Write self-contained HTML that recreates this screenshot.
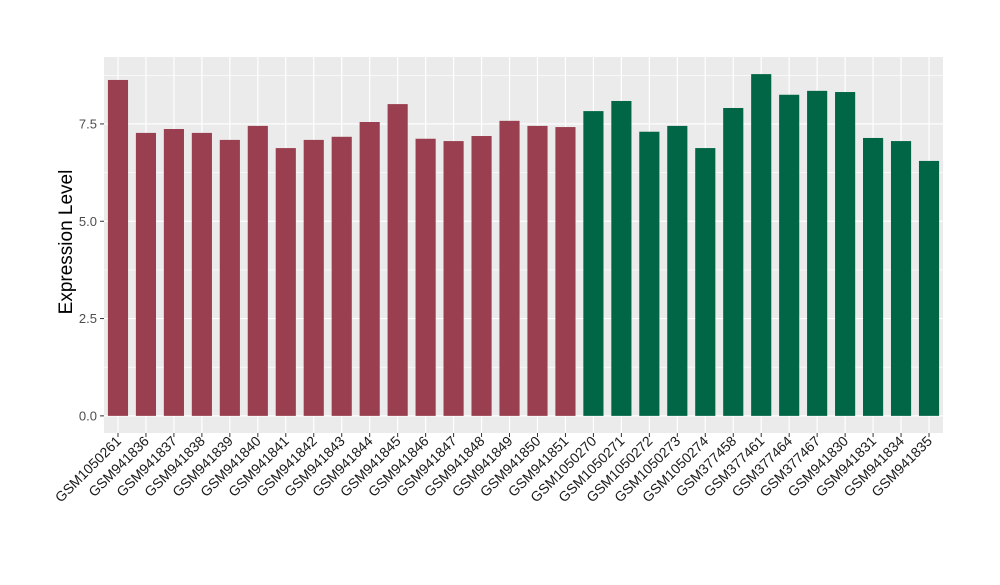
<!DOCTYPE html>
<html><head><meta charset="utf-8"><style>
body{margin:0;background:#fff;}
svg text{font-family:"Liberation Sans",sans-serif;}
</style></head><body>
<svg id="chart" width="1000" height="580"></svg>
<script>
const categories=["GSM1050261","GSM941836","GSM941837","GSM941838","GSM941839","GSM941840","GSM941841","GSM941842","GSM941843","GSM941844","GSM941845","GSM941846","GSM941847","GSM941848","GSM941849","GSM941850","GSM941851","GSM1050270","GSM1050271","GSM1050272","GSM1050273","GSM1050274","GSM377458","GSM377461","GSM377464","GSM377467","GSM941830","GSM941831","GSM941834","GSM941835"];
const values=[8.63,7.27,7.37,7.27,7.09,7.45,6.88,7.09,7.17,7.55,8.01,7.12,7.06,7.19,7.58,7.45,7.42,7.83,8.09,7.30,7.45,6.88,7.91,8.78,8.25,8.35,8.32,7.14,7.06,6.55];
const groups=[0,0,0,0,0,0,0,0,0,0,0,0,0,0,0,0,0,1,1,1,1,1,1,1,1,1,1,1,1,1];
const yTicks=[0,2.5,5,7.5];
const yTickLabels=["0.0","2.5","5.0","7.5"];
const colors=["#9A3F4F","#006645"];
const NS="http://www.w3.org/2000/svg";
const svg=document.getElementById('chart');
const L=104,R=943,T=57,B=433,yMin=-0.44,yMax=9.22;
const y=v=>B-(v-yMin)/(yMax-yMin)*(B-T);
const step=(R-L)/categories.length;
const x=i=>L+step*(i+0.5);
function mk(t,a){const e=document.createElementNS(NS,t);for(const k in a)e.setAttribute(k,a[k]);svg.appendChild(e);return e;}
const bg=mk('rect',{x:L,y:T,width:R-L,height:B-T,fill:'#EBEBEB'});


for(let i=0;i<yTicks.length-1;i++){const m=(yTicks[i]+yTicks[i+1])/2;const g=mk('line',{x1:L,x2:R,y1:y(m),y2:y(m),stroke:'#fff','stroke-width':0.6});}
{const m=yTicks[yTicks.length-1]+1.25;if(m<yMax){const g=mk('line',{x1:L,x2:R,y1:y(m),y2:y(m),stroke:'#fff','stroke-width':0.6});}}
yTicks.forEach((t,i)=>{
 const g=mk('line',{x1:L,x2:R,y1:y(t),y2:y(t),stroke:'#fff','stroke-width':1.2});
 
 const tk=mk('line',{x1:L-4,x2:L,y1:y(t),y2:y(t),stroke:'#333'});
 
 const tx=mk('text',{x:L-7,y:y(t)+4.5,'text-anchor':'end','font-size':13,fill:'#4D4D4D'});
 tx.textContent=yTickLabels[i];
 
});
categories.forEach((c,i)=>{
 const g=mk('line',{x1:x(i),x2:x(i),y1:T,y2:B,stroke:'#fff','stroke-width':1.2});
 
});
categories.forEach((c,i)=>{
 const bw=step*0.72;
 const b=mk('rect',{x:x(i)-bw/2,y:y(values[i]),width:bw,height:y(0)-y(values[i]),fill:colors[groups[i]]});
 
 const tk=mk('line',{x1:x(i),x2:x(i),y1:B,y2:B+4,stroke:'#333'});
 
 const tx=mk('text',{x:x(i)+4,y:B+9,'text-anchor':'end','font-size':14,fill:'#1a1a1a',transform:`rotate(-45 ${x(i)+4} ${B+9})`});
 tx.textContent=c;
 
});
const yt=mk('text',{x:72,y:(T+B)/2-3,'text-anchor':'middle','font-size':19,fill:'#000',transform:`rotate(-90 72 ${(T+B)/2-3})`});
yt.textContent='Expression Level';

</script>
</body></html>
